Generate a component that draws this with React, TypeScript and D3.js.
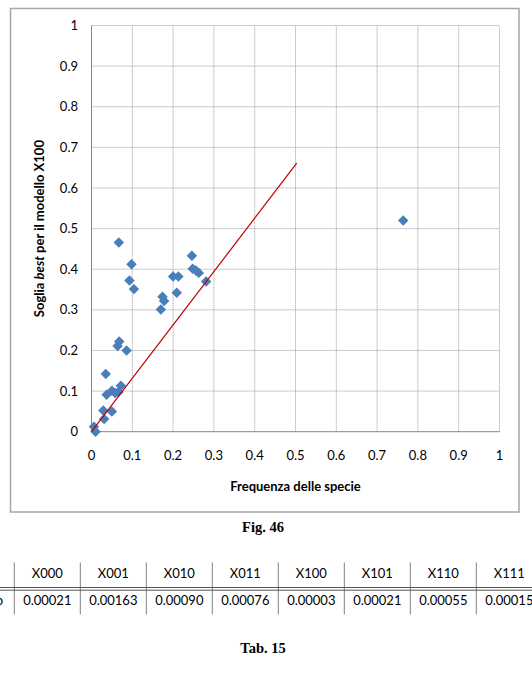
import React from "react";
import * as d3 from "d3";

const freqX: number[] = [0.067, 0.098, 0.093, 0.104, 0.246, 0.248, 0.256, 0.263, 0.281, 0.2, 0.213, 0.209, 0.174, 0.178, 0.17, 0.068, 0.064, 0.086, 0.035, 0.037, 0.05, 0.072, 0.066, 0.058, 0.029, 0.05, 0.031, 0.006, 0.01, 0.764];
const sogliaY: number[] = [0.466, 0.412, 0.372, 0.351, 0.433, 0.401, 0.397, 0.391, 0.37, 0.382, 0.382, 0.342, 0.332, 0.322, 0.301, 0.222, 0.211, 0.2, 0.142, 0.091, 0.101, 0.113, 0.098, 0.095, 0.052, 0.05, 0.031, 0.012, 0.0, 0.52];
const lineX: number[] = [0, 0.503];
const lineY: number[] = [0, 0.661];
const ticks: number[] = [0, 0.1, 0.2, 0.3, 0.4, 0.5, 0.6, 0.7, 0.8, 0.9, 1];
const tableHeaders: string[] = ["X000", "X001", "X010", "X011", "X100", "X101", "X110", "X111"];
const tableValues: string[] = ["0.00021", "0.00163", "0.00090", "0.00076", "0.00003", "0.00021", "0.00055", "0.00015"];

const FONT = "Lato, 'Open Sans', sans-serif";

export default function App() {
  const x = d3.scaleLinear().domain([0, 1]).range([91.5, 499.5]);
  const y = d3.scaleLinear().domain([0, 1]).range([431.7, 25.5]);
  const fmt = (v: number) => (v === 0 ? "0" : v === 1 ? "1" : d3.format(".1f")(v));
  const line = d3.line<number>().x((_, i) => x(lineX[i])).y((_, i) => y(lineY[i]));
  const diamond = d3.symbol().type(d3.symbolDiamond2).size(70)();
  const colX = d3.scaleLinear().domain([0, 8]).range([14.3, 542.3]);

  return (
    <svg width={532} height={676} style={{ position: "absolute", left: 0, top: 0, background: "#fff" }}>
      <rect x={10.5} y={8.5} width={508.5} height={503.5} fill="#fff" stroke="#a6a6a6" strokeWidth={1.5} />
      {ticks.slice(1).map((t) => (
        <line key={"gx" + t} x1={x(t)} x2={x(t)} y1={y(0)} y2={y(1)} stroke="#999" strokeWidth={1} strokeDasharray="1,1" />
      ))}
      {ticks.slice(1).map((t) => (
        <line key={"gy" + t} x1={x(0)} x2={x(1)} y1={y(t)} y2={y(t)} stroke="#999" strokeWidth={1} strokeDasharray="1,1" />
      ))}
      <line x1={x(0)} x2={x(0)} y1={y(0)} y2={y(1)} stroke="#868686" strokeWidth={1} />
      <line x1={x(0)} x2={x(1)} y1={y(0)} y2={y(0)} stroke="#868686" strokeWidth={1} />
      {ticks.map((t) => (
        <text key={"ty" + t} x={78} y={y(t)} dy="0.35em" textAnchor="end" fontFamily={FONT} fontSize={13} fill="#000">
          {fmt(t)}
        </text>
      ))}
      {ticks.map((t) => (
        <text key={"tx" + t} x={x(t)} y={455.5} dy="0.35em" textAnchor="middle" fontFamily={FONT} fontSize={13} fill="#000">
          {fmt(t)}
        </text>
      ))}
      <text x={295.5} y={486} dy="0.35em" textAnchor="middle" fontFamily={FONT} fontSize={13} fontWeight="bold" fill="#000">
        Frequenza delle specie
      </text>
      <text transform={`translate(39.5,${(y(0) + y(1)) / 2}) rotate(-90)`} dy="0.35em" textAnchor="middle" fontFamily={FONT} fontSize={13} fontWeight="bold" fill="#000">
        Soglia <tspan fontStyle="italic">best</tspan> per il modello X100
      </text>
      {freqX.map((fx, i) => (
        <path key={"p" + i} d={diamond as string} transform={`translate(${x(fx)},${y(sogliaY[i])})`} fill="#4a7ebb" />
      ))}
      <path d={line(lineX) as string} fill="none" stroke="#c00000" strokeWidth={1.2} />

      <text x={263} y={526.5} dy="0.35em" textAnchor="middle" fontFamily="'Liberation Serif', 'Times New Roman', serif" fontSize={14.5} fontWeight="bold" fill="#000">
        Fig. 46
      </text>

      {d3.range(0, 9).map((i) => (
        <line key={"vs" + i} x1={colX(i)} x2={colX(i)} y1={562.5} y2={614.5} stroke="#808080" strokeWidth={1} />
      ))}
      <line x1={0} x2={532} y1={587.5} y2={587.5} stroke="#555" strokeWidth={1} />
      <line x1={0} x2={532} y1={590.2} y2={590.2} stroke="#555" strokeWidth={1} />
      {tableHeaders.map((h, i) => (
        <text key={"h" + h} x={(colX(i) + colX(i + 1)) / 2} y={573} dy="0.35em" textAnchor="middle" fontFamily={FONT} fontSize={13} fill="#000">
          {h}
        </text>
      ))}
      {tableValues.map((v, i) => (
        <text key={"v" + i} x={(colX(i) + colX(i + 1)) / 2} y={600.5} dy="0.35em" textAnchor="middle" fontFamily={FONT} fontSize={13} fill="#000">
          {v}
        </text>
      ))}
      <text x={3} y={600.5} dy="0.35em" textAnchor="end" fontFamily={FONT} fontSize={13} fill="#000">
        o
      </text>
      <text x={263} y={647.5} dy="0.35em" textAnchor="middle" fontFamily="'Liberation Serif', 'Times New Roman', serif" fontSize={14.5} fontWeight="bold" fill="#000">
        Tab. 15
      </text>
    </svg>
  );
}
